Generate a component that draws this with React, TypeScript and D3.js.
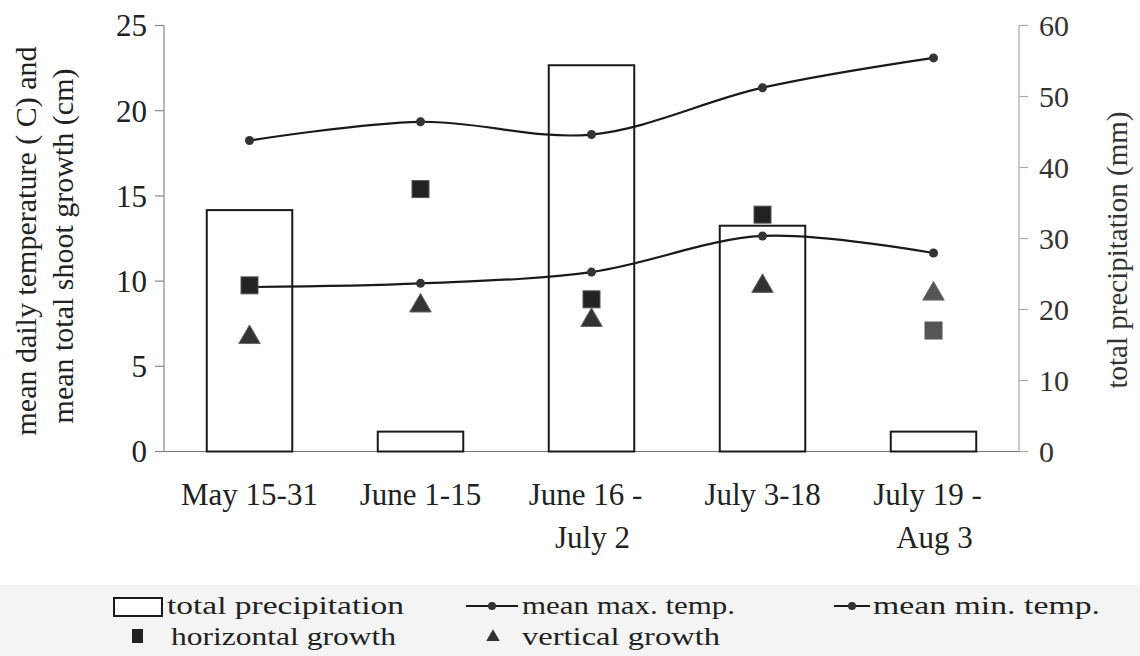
import React from "react";
import * as d3 from "d3";

const categories = ["May 15-31", "June 1-15", "June 16 - July 2", "July 3-18", "July 19 - Aug 3"];
const categoryLines = [["May 15-31"], ["June 1-15"], ["June 16 -", "July 2"], ["July 3-18"], ["July 19 -", "Aug 3"]];
const precipitation = [34, 2.8, 54.4, 31.8, 2.8];
const maxTemp = [18.25, 19.35, 18.6, 21.35, 23.1];
const minTemp = [9.65, 9.87, 10.53, 12.65, 11.65];
const horizontalGrowth = [9.75, 15.4, 8.93, 13.9, 7.1];
const verticalGrowth = [6.7, 8.55, 7.7, 9.7, 9.25];
const leftTicks = [0, 5, 10, 15, 20, 25];
const rightTicks = [0, 10, 20, 30, 40, 50, 60];

const W = 1140;
const H = 656;
const FONT = "'Liberation Serif', 'DejaVu Serif', serif";

export default function App() {
  const x = d3.scaleBand<string>().domain(categories).range([164, 1019]).paddingInner(0).paddingOuter(0);
  const yL = d3.scaleLinear().domain([0, 25]).range([451.5, 25.5]);
  const yR = d3.scaleLinear().domain([0, 60]).range([451.5, 25.5]);
  const cx = (c: string) => (x(c) as number) + x.bandwidth() / 2;
  const barW = x.bandwidth() * 0.5;

  const line = d3
    .line<number>()
    .x((_, i) => cx(categories[i]))
    .y((d) => yL(d))
    .curve(d3.curveCatmullRom.alpha(0.5));

  const sq = 17;
  const tri = d3.symbol().type(d3.symbolTriangle).size(200);
  const ink = "#1a1a1a";

  return (
    <svg width={W} height={H} style={{ position: "absolute", left: 0, top: 0, background: "#fff" }} fontFamily={FONT}>
      <rect x={0} y={585} width={W} height={71} fill="#f4f4f4" />
      {/* axes */}
      <line x1={164} x2={164} y1={yL(25)} y2={yL(0)} stroke="#888" strokeWidth={1.2} />
      <line x1={1019} x2={1019} y1={yR(60)} y2={yR(0)} stroke="#aaa" strokeWidth={1.2} />
      <line x1={155} x2={1028} y1={yL(0)} y2={yL(0)} stroke="#777" strokeWidth={1.2} />
      {leftTicks.map((t) => (
        <g key={"l" + t}>
          <line x1={155} x2={164} y1={yL(t)} y2={yL(t)} stroke="#888" strokeWidth={1.2} />
          <text x={147} y={yL(t)} dy="0.35em" textAnchor="end" fontSize={31} fill="#222">
            {t}
          </text>
        </g>
      ))}
      {rightTicks.map((t) => (
        <g key={"r" + t}>
          <line x1={1019} x2={1028} y1={yR(t)} y2={yR(t)} stroke="#aaa" strokeWidth={1.2} />
          <text x={1039} y={yR(t)} dy="0.35em" textAnchor="start" fontSize={30} fill="#333">
            {t}
          </text>
        </g>
      ))}
      {/* axis titles */}
      <text transform={`translate(36,241) rotate(-90)`} textAnchor="middle" fontSize={30} fill="#222">
        mean daily temperature ( C) and
      </text>
      <text transform={`translate(73,246) rotate(-90)`} textAnchor="middle" fontSize={30} fill="#222">
        mean total shoot growth (cm)
      </text>
      <text transform={`translate(1127,250) rotate(-90)`} textAnchor="middle" fontSize={29} fill="#333">
        total precipitation (mm)
      </text>
      {/* category labels */}
      {categories.map((c, i) => (
        <text key={c} y={505} textAnchor="middle" fontSize={31} fill="#222">
          {categoryLines[i].map((l, j) => (
            <tspan key={j} x={cx(c) + (categoryLines[i].length > 1 ? (j === 0 ? -6 : 1) : 0)} dy={j === 0 ? 0 : 43}>
              {l}
            </tspan>
          ))}
        </text>
      ))}
      {/* bars */}
      {categories.map((c, i) => (
        <rect
          key={"b" + c}
          x={cx(c) - barW / 2}
          y={yR(precipitation[i])}
          width={barW}
          height={yR(0) - yR(precipitation[i])}
          fill="#fff"
          stroke={ink}
          strokeWidth={2}
        />
      ))}
      {/* lines */}
      <path d={line(maxTemp) || ""} fill="none" stroke={ink} strokeWidth={2.2} />
      <path d={line(minTemp) || ""} fill="none" stroke={ink} strokeWidth={2.2} />
      {categories.map((c, i) => (
        <g key={"p" + c}>
          <circle cx={cx(c)} cy={yL(maxTemp[i])} r={4.5} fill="#333" />
          <circle cx={cx(c)} cy={yL(minTemp[i])} r={4.5} fill="#333" />
        </g>
      ))}
      {/* growth markers */}
      {categories.map((c, i) => (
        <rect key={"h" + c} x={cx(c) - sq / 2} y={yL(horizontalGrowth[i]) - sq / 2} width={sq} height={sq} fill={i === 4 ? "#555" : "#222"} stroke="#555" strokeWidth={1} />
      ))}
      {categories.map((c, i) => (
        <path key={"v" + c} d={tri() || ""} transform={`translate(${cx(c)},${yL(verticalGrowth[i])})`} fill={i === 4 ? "#555" : "#333"} stroke="#666" strokeWidth={1} />
      ))}
      {/* legend */}
      <g fontSize={26} fill="#222">
        <rect x={114} y={598} width={48} height={18} fill="#fff" stroke={ink} strokeWidth={2} />
        <text x={167} y={614} textLength={237} lengthAdjust="spacingAndGlyphs">total precipitation</text>
        <line x1={466} x2={518} y1={606} y2={606} stroke={ink} strokeWidth={2.2} />
        <circle cx={492} cy={606} r={4} fill="#333" />
        <text x={522} y={614} textLength={213} lengthAdjust="spacingAndGlyphs">mean max. temp.</text>
        <line x1={834} x2={870} y1={606} y2={606} stroke={ink} strokeWidth={2.2} />
        <circle cx={852} cy={606} r={4} fill="#333" />
        <text x={873} y={614} textLength={227} lengthAdjust="spacingAndGlyphs">mean min. temp.</text>
        <rect x={132} y={629} width={11} height={14} fill="#222" />
        <text x={171} y={645} textLength={225} lengthAdjust="spacingAndGlyphs">horizontal growth</text>
        <path d={d3.symbol().type(d3.symbolTriangle).size(80)() || ""} transform="translate(493,637)" fill="#333" />
        <text x={522} y={645} textLength={198} lengthAdjust="spacingAndGlyphs">vertical growth</text>
      </g>
    </svg>
  );
}
